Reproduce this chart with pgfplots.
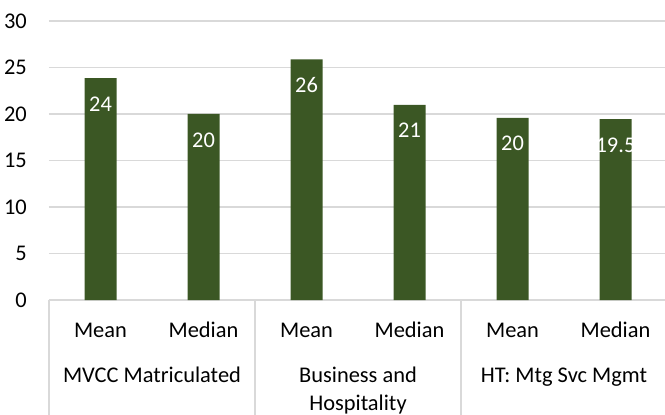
\documentclass[border=0pt]{standalone}
\usepackage{fontspec}
\setmainfont{Carlito}
\usepackage{pgfplots}
\pgfplotsset{compat=1.18}
\definecolor{barg}{HTML}{3B5724}
\definecolor{gridg}{HTML}{D9D9D9}
\newcommand{\lblfont}{\fontsize{22.5}{28}\selectfont}
\begin{document}
\begin{tikzpicture}
\begin{axis}[
    name=ax,
    scale only axis,
    width=618bp, height=279bp,
    xmin=-0.5, xmax=5.5,
    ymin=0, ymax=30,
    ytick={0,5,...,30},
    xtick={0,...,5},
    xticklabels={Mean,Median,Mean,Median,Mean,Median},
    /pgf/number format/assume math mode=true,
    axis x line*=bottom,
    axis y line*=left,
    x axis line style={draw=gridg, line width=1.3bp, -},
    y axis line style={draw=none},
    ymajorgrids,
    grid style={draw=gridg, line width=1.3bp},
    major tick length=0pt,
    tick style={draw=none},
    tick label style={font=\lblfont, text=black},
    yticklabel style={anchor=east, inner sep=0pt, xshift=-22bp},
    xticklabel style={anchor=base, inner sep=0pt, yshift=-37bp},
    extra x ticks={-0.5,1.5,3.5,5.5},
    extra x tick labels={},
    extra x tick style={grid=none, major tick length=120bp, tick align=outside,
        tick style={draw=gridg, line width=1.3bp}},
    ybar,
    bar width=32bp,
    nodes near coords,
    point meta=explicit symbolic,
    every node near coord/.append style={font=\lblfont, text=white, anchor=base, yshift=-33bp, inner sep=0pt},
    clip=false,
]
\addplot[fill=barg, draw=none] coordinates {
    (0,23.87) [24]
    (1,20.0) [20]
    (2,25.88) [26]
    (3,20.97) [21]
    (4,19.57) [20]
    (5,19.46) [19.5]
};
\node[font=\lblfont, anchor=base] at ([yshift=-82bp]axis cs:0.5,0) {MVCC Matriculated};
\node[font=\lblfont, anchor=base] at ([yshift=-82bp]axis cs:2.5,0) {Business and};
\node[font=\lblfont, anchor=base] at ([yshift=-110bp]axis cs:2.5,0) {Hospitality};
\node[font=\lblfont, anchor=base] at ([yshift=-82bp]axis cs:4.5,0) {HT: Mtg Svc Mgmt};
\end{axis}
\pgfresetboundingbox
\path ([xshift=-49bp,yshift=-115bp]ax.south west) rectangle ([xshift=-2bp,yshift=21bp]ax.north east);
\end{tikzpicture}
\end{document}
